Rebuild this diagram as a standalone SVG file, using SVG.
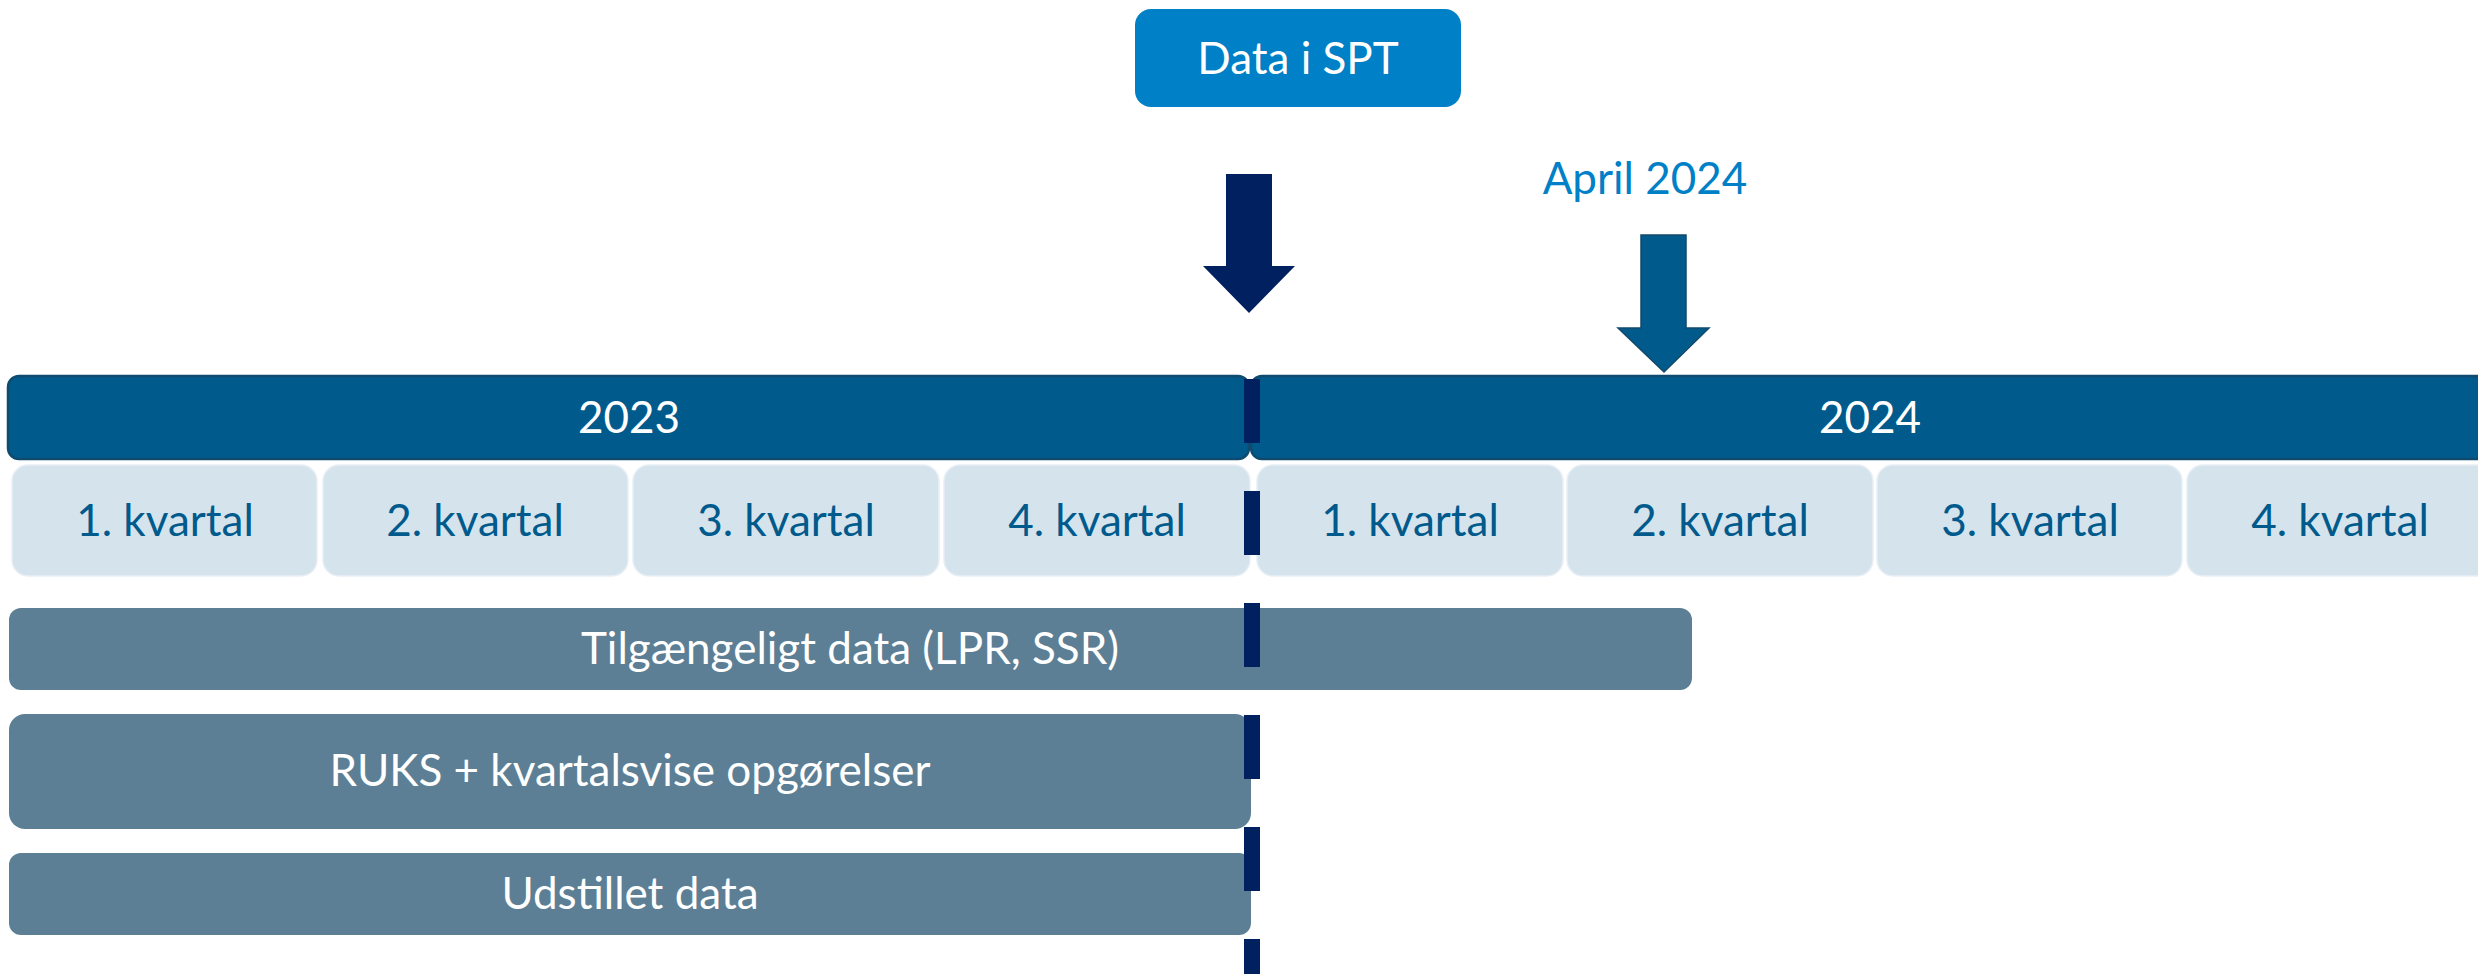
<svg xmlns="http://www.w3.org/2000/svg" width="2478" height="974" viewBox="0 0 2478 974">
<style>
text{font-family:Lato,"Open Sans","Liberation Sans",sans-serif;text-anchor:middle;font-size:44px}
.wt{fill:#ffffff}
.qt{fill:#005A8C}
.year{fill:#005A8C;stroke:#0E4B6F;stroke-width:2.5}
.q{fill:#D5E3ED;stroke:#E8EFF5;stroke-width:1.5}
.bar{fill:#5C7F95}
</style>
<rect width="2478" height="974" fill="#ffffff"/>
<g id="data-i-spt">
<rect x="1135" y="9" width="326" height="98" rx="16" fill="#0080C6"/>
<text x="1298" y="74" class="wt" font-size="43.5">Data i SPT</text>
</g>
<g id="april-2024">
<text x="1645" y="194" fill="#0080C6" font-size="43">April 2024</text>
</g>
<g id="year-2023">
<rect x="8" y="376" width="1241" height="83" rx="11" class="year"/>
<text x="629" y="433" class="wt">2023</text>
</g>
<g id="year-2024">
<rect x="1251" y="376" width="1260" height="83" rx="11" class="year"/>
<text x="1870" y="433" class="wt">2024</text>
</g>
<g id="q1-2023"><rect x="12" y="465" width="305" height="111" rx="16" class="q"/><text x="165" y="536" class="qt">1. kvartal</text></g>
<g id="q2-2023"><rect x="323" y="465" width="305" height="111" rx="16" class="q"/><text x="475" y="536" class="qt">2. kvartal</text></g>
<g id="q3-2023"><rect x="633" y="465" width="306" height="111" rx="16" class="q"/><text x="786" y="536" class="qt">3. kvartal</text></g>
<g id="q4-2023"><rect x="944" y="465" width="306" height="111" rx="16" class="q"/><text x="1097" y="536" class="qt">4. kvartal</text></g>
<g id="q1-2024"><rect x="1257" y="465" width="306" height="111" rx="16" class="q"/><text x="1410" y="536" class="qt">1. kvartal</text></g>
<g id="q2-2024"><rect x="1567" y="465" width="306" height="111" rx="16" class="q"/><text x="1720" y="536" class="qt">2. kvartal</text></g>
<g id="q3-2024"><rect x="1877" y="465" width="305" height="111" rx="16" class="q"/><text x="2030" y="536" class="qt">3. kvartal</text></g>
<g id="q4-2024"><rect x="2187" y="465" width="306" height="111" rx="16" class="q"/><text x="2340" y="536" class="qt">4. kvartal</text></g>
<g id="tilgaengeligt">
<rect x="9" y="608" width="1683" height="82" rx="12" class="bar"/>
<text x="850" y="664" class="wt">Tilgængeligt data (LPR, SSR)</text>
</g>
<g id="ruks">
<rect x="9" y="714" width="1242" height="115" rx="16" class="bar"/>
<text x="630" y="786" class="wt">RUKS + kvartalsvise opgørelser</text>
</g>
<g id="udstillet">
<rect x="9" y="853" width="1242" height="82" rx="12" class="bar"/>
<text x="630" y="909" class="wt">Udstillet data</text>
</g>
<g id="connectors">
<polygon points="1226,174 1272,174 1272,266 1295,266 1249,313 1203,266 1226,266" fill="#002060"/>
<polygon points="1641,235 1686,235 1686,328 1709,328 1664,372 1618,328 1641,328" fill="#005A8C" stroke="#124A6C" stroke-width="1.5"/>
<line x1="1252" y1="379" x2="1252" y2="974" stroke="#002060" stroke-width="16" stroke-dasharray="64 48"/>
</g>
</svg>
